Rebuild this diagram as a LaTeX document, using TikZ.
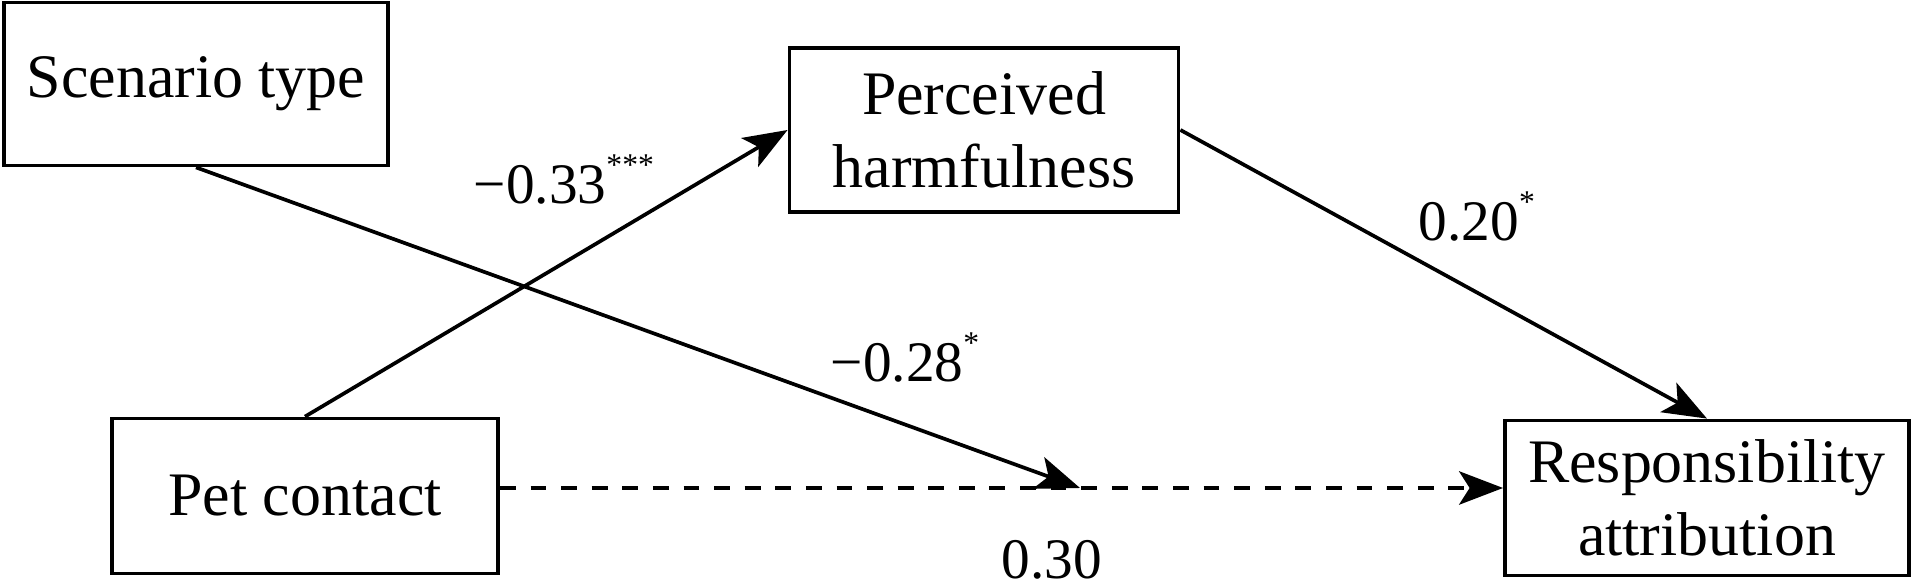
\documentclass[tikz,border=0pt]{standalone}
\usepackage{fontspec}
\setmainfont{Liberation Serif}
\usetikzlibrary{arrows.meta}
\newcommand{\sig}[1]{\raisebox{0.5em}{\fontsize{9}{9}\selectfont #1}}

\begin{document}
\begin{tikzpicture}[
    x = 0.01cm, y = -0.01cm,
    line width = 1.05pt,
    >={Stealth[length=12.5pt,width=9.5pt,inset=3pt]},
    var/.style={ draw,rectangle, inner sep = 0pt, align = center,
      font = \fontsize{17.6}{20.6}\selectfont },
    coef/.style={ inner sep = 0pt, anchor = base west,
      font = \fontsize{16.3}{20.5}\selectfont }
    ]
  \useasboundingbox (0,0) rectangle (1911,586);
  \node (scen) [var, minimum width = 3.84cm, minimum height = 1.63cm] at (196,84) {Scenario type};
  \node (harm) [var, minimum width = 3.89cm, minimum height = 1.64cm] at (984,130) {Perceived\\harmfulness};
  \node (pet) [var, minimum width = 3.86cm, minimum height = 1.55cm] at (305,496) {Pet contact};
  \node (resp) [var, minimum width = 4.04cm, minimum height = 1.55cm] at (1707,498) {Responsibility\\attribution};
  \node (a) [coef] at (472,204) {−0.33\sig{***}};
  \node (b) [coef] at (1417,241) {0.20\sig{*}};
  \node (c) [coef] at (829,382) {−0.28\sig{*}};
  \node (cp) [coef] at (1000,579) {0.30};
  \coordinate (hit) at (1080,488);
\draw[->] (pet.north) -- (harm.west) ;
\draw[->] (harm.east) -- (resp.north) ;
\draw[->] (scen.south) -- (hit) ;
\draw[->, dash pattern = on 4.5pt off 4.2pt] (pet.east |- hit) -- (resp.west |- hit) ;
  \end{tikzpicture}
\end{document}
